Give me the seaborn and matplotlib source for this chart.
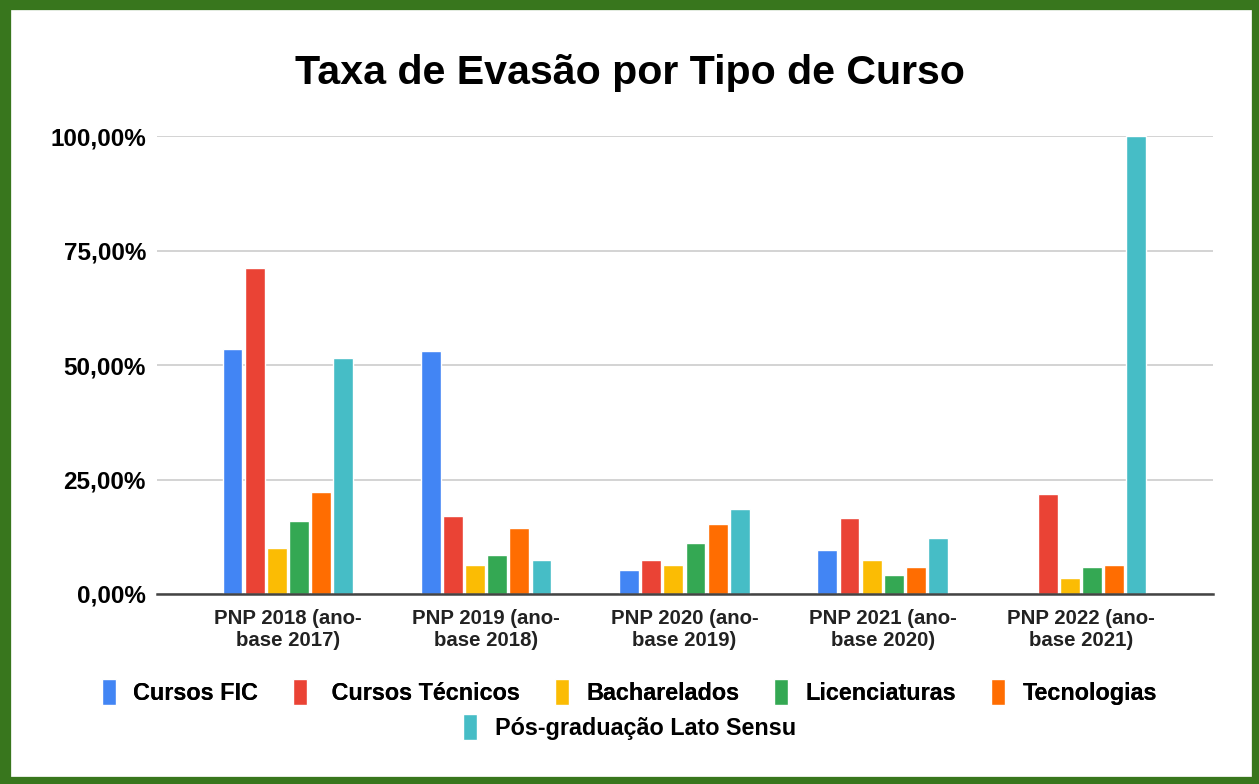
import numpy as np
import pandas as pd
import matplotlib
matplotlib.use("Agg")
import matplotlib.pyplot as plt
import seaborn as sns
from matplotlib.patches import Rectangle

# --- data ---
periods = [
    "PNP 2018 (ano-\nbase 2017)",
    "PNP 2019 (ano-\nbase 2018)",
    "PNP 2020 (ano-\nbase 2019)",
    "PNP 2021 (ano-\nbase 2020)",
    "PNP 2022 (ano-\nbase 2021)",
]
course_types = [
    "Cursos FIC",
    " Cursos Técnicos",
    "Bacharelados",
    "Licenciaturas",
    "Tecnologias",
    "Pós-graduação Lato Sensu",
]
cursos_fic = [53.4, 53.0, 5.2, 9.7, np.nan]
cursos_tecnicos = [71.2, 17.1, 7.4, 16.6, 21.8]
bacharelados = [9.95, 6.3, 6.3, 7.4, 3.6]
licenciaturas = [15.9, 8.5, 11.2, 4.1, 5.9]
tecnologias = [22.2, 14.5, 15.3, 5.9, 6.3]
pos_graduacao = [51.6, 7.4, 18.6, 12.2, 100.0]

colors = ["#4285F4", "#EA4335", "#FBBC04", "#34A853", "#FF6D01", "#46BDC6"]

series = [cursos_fic, cursos_tecnicos, bacharelados, licenciaturas, tecnologias, pos_graduacao]
rows = []
for name, values in zip(course_types, series):
    for period, v in zip(periods, values):
        rows.append({"periodo": period, "tipo": name, "taxa": v / 100})
df = pd.DataFrame(rows)

sns.set_theme(style="white")
plt.rcParams["font.family"] = ["Liberation Sans", "DejaVu Sans"]

fig = plt.figure(figsize=(12.59, 7.84), dpi=100)
ax = fig.add_axes([157 / 1259, 1 - 594 / 784, (1213 - 157) / 1259, (594 - 136) / 784])

sns.barplot(
    data=df, x="periodo", y="taxa", hue="tipo",
    order=periods, hue_order=course_types, palette=colors,
    width=0.67, gap=0.1, saturation=1, ax=ax, legend=True,
)

ax.set_ylim(0, 1.0)
ax.set_xlim(-0.66, 4.666)
ax.set_yticks([0, 0.25, 0.5, 0.75, 1.0])
ax.set_yticklabels(["0,00%", "25,00%", "50,00%", "75,00%", "100,00%"],
                   fontsize=17.5, fontweight="bold", color="black")
ax.set_xticks(range(len(periods)))
ax.set_xticklabels(periods, fontsize=14.7, fontweight="bold", color="#222222", linespacing=1.2)
ax.tick_params(axis="y", length=0, pad=8)
ax.tick_params(axis="x", length=0, pad=11)
ax.set_xlabel("")
ax.set_ylabel("")
ax.yaxis.grid(True, color="#cccccc", linewidth=1.2)
ax.set_axisbelow(True)
for side in ["top", "right", "left"]:
    ax.spines[side].set_visible(False)
ax.spines["bottom"].set_color("#444444")
ax.spines["bottom"].set_linewidth(1.8)
for p in ax.patches:
    p.set_clip_on(False)

# legend split into two centered rows
handles, labels = ax.get_legend_handles_labels()
ax.get_legend().remove()
leg_kw = dict(frameon=False, prop={"weight": "bold", "size": 16.8}, labelcolor="black",
              handlelength=0.6, handleheight=1.3, handletextpad=0.75, columnspacing=1.5)
leg1 = fig.legend(handles[:5], labels[:5], ncol=5, loc="center",
                  bbox_to_anchor=(0.5, 1 - 692 / 784), **leg_kw)
fig.add_artist(leg1)
fig.legend(handles[5:], labels[5:], ncol=1, loc="center",
           bbox_to_anchor=(0.5, 1 - 727 / 784), **leg_kw)

fig.text(0.5, 1 - 73 / 784, "Taxa de Evasão por Tipo de Curso",
         ha="center", va="center", fontsize=29.6, fontweight="bold", color="black")

# green frame
fig.patches.append(Rectangle((3 / 1259, 0), 1 - 3 / 1259, 1 - 2 / 784,
                             transform=fig.transFigure, fill=False,
                             edgecolor="#38761D", linewidth=11, zorder=10))

fig.savefig("out.png", dpi=100)
